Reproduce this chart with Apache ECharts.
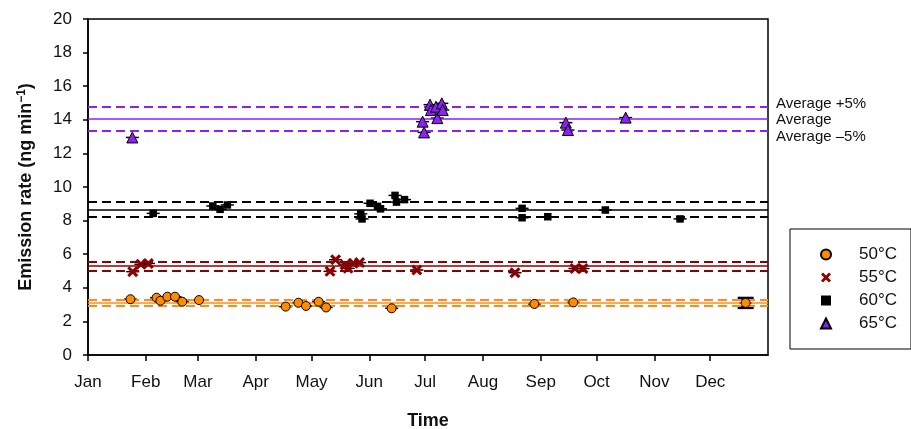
<!DOCTYPE html>
<html><head><meta charset="utf-8">
<script src="https://cdn.jsdelivr.net/npm/echarts@6/dist/echarts.min.js"></script>
<style>html,body{margin:0;padding:0;background:#fff}#c{width:911px;height:429px}</style>
</head><body><div id="c"></div>
<script>
// Day-of-year axis
const monthStarts = [0, 31, 59, 90, 120, 151, 181, 212, 243, 273, 304, 334];
const monthLabels = ['Jan','Feb','Mar','Apr','May','Jun','Jul','Aug','Sep','Oct','Nov','Dec'];

const seriesNames = ['50°C', '55°C', '60°C', '65°C'];

// 50 °C
const days50  = [22.8, 36.8, 38.9, 42.6, 46.7, 50.6, 59.6, 106.1, 112.9, 117.0, 123.8, 127.8, 163.0, 239.6, 260.5, 353.0];
const rate50  = [3.32, 3.41, 3.23, 3.47, 3.47, 3.17, 3.27, 2.88, 3.11, 2.92, 3.17, 2.83, 2.78, 3.04, 3.13, 3.10];
const yErr50  = [0, 0, 0, 0, 0, 0, 0, 0, 0, 0, 0, 0, 0, 0, 0, 0.28];
// 55 °C
const days55  = [24.0, 28.4, 32.4, 129.9, 132.9, 138.0, 139.6, 142.4, 145.8, 176.5, 229.2, 261.4, 265.7];
const rate55  = [4.96, 5.40, 5.45, 4.98, 5.67, 5.36, 5.16, 5.46, 5.50, 5.06, 4.90, 5.15, 5.15];
// 60 °C
const days60  = [35.0, 67.0, 70.9, 74.8, 146.4, 147.1, 151.4, 155.4, 157.0, 164.8, 165.6, 169.9, 233.0, 233.0, 246.8, 277.7, 317.8];
const rate60  = [8.43, 8.87, 8.67, 8.93, 8.40, 8.10, 9.03, 8.85, 8.70, 9.50, 9.10, 9.25, 8.73, 8.17, 8.23, 8.63, 8.10];
// 65 °C
const days65  = [23.8, 179.6, 180.4, 183.6, 184.1, 186.8, 187.5, 189.9, 190.4, 256.5, 257.6, 288.6];
const rate65  = [12.95, 13.89, 13.25, 14.90, 14.58, 14.78, 14.10, 14.98, 14.58, 13.83, 13.39, 14.13];

const averageRates = [3.10, 5.30, 8.67, 14.05];
const bandFraction = 0.05;
const bandLabels = ['Average +5%', 'Average', 'Average \u20135%'];

const xErrDays = 3.5;
const capDays = 4.3;

const colors = {
  line: ['#FF8C1A', '#8B0000', '#000000', '#8B20F8'],
  fill: ['#FF8C00', '#8B0000', '#000000', '#8B20F8']
};
const symbols = ['circle', 'path://M2,0 L5,3 L8,0 L10,2 L7,5 L10,8 L8,10 L5,7 L2,10 L0,8 L3,5 L0,2 Z', 'rect', 'triangle'];
const symbolSizes = [9, 11, 7.5, 11];
const borders = [1, 0, 0, 1];

const sets = [
  {d: days50, r: rate50, e: yErr50},
  {d: days55, r: rate55, e: days55.map(() => 0)},
  {d: days60, r: rate60, e: days60.map(() => 0)},
  {d: days65, r: rate65, e: days65.map(() => 0)}
];

function errRender(params, api) {
  const x = api.value(0), y = api.value(1), ye = api.value(2);
  const l = api.coord([x - xErrDays, y]), r = api.coord([x + xErrDays, y]);
  const children = [{
    type: 'line', shape: {x1: l[0], y1: l[1], x2: r[0], y2: r[1]},
    style: {stroke: '#000', lineWidth: 1.5}
  }];
  if (ye > 0) {
    const t = api.coord([x, y + ye]), b = api.coord([x, y - ye]);
    const tl = api.coord([x - capDays, y + ye]), tr = api.coord([x + capDays, y + ye]);
    const bl = api.coord([x - capDays, y - ye]), br = api.coord([x + capDays, y - ye]);
    children.push({type: 'line', shape: {x1: t[0], y1: t[1], x2: b[0], y2: b[1]}, style: {stroke: '#000', lineWidth: 2}});
    children.push({type: 'line', shape: {x1: tl[0], y1: tl[1], x2: tr[0], y2: tr[1]}, style: {stroke: '#000', lineWidth: 3}});
    children.push({type: 'line', shape: {x1: bl[0], y1: bl[1], x2: br[0], y2: br[1]}, style: {stroke: '#000', lineWidth: 3}});
  }
  return {type: 'group', children};
}

const font = 'Liberation Sans, Arial, sans-serif';
const series = [];
// average lines
averageRates.forEach((avg, i) => {
  const vals = [avg * (1 + bandFraction), avg, avg * (1 - bandFraction)];
  const isPurple = i === 3;
  series.push({
    name: 'avg' + i, type: 'line', data: [], z: 1, silent: true,
    markLine: {
      silent: true, symbol: 'none', animation: false,
      data: vals.map((v, k) => ({
        yAxis: v,
        lineStyle: {color: colors.line[i], width: k === 1 ? 1.5 : 2, type: k === 1 ? 'solid' : [9, 5]},
        label: isPurple ? {
          show: true, position: 'end', formatter: bandLabels[k], distance: 8,
          offset: [0, [-3, 1, 6][k]], color: '#111', fontSize: 15,
          fontFamily: font
        } : {show: false}
      }))
    }
  });
});
// error bars
sets.forEach((s, i) => {
  series.push({
    name: 'err' + i, type: 'custom', z: 3, silent: true,
    renderItem: errRender,
    data: s.d.map((d, k) => [d, s.r[k], s.e[k]])
  });
});
// markers
sets.forEach((s, i) => {
  series.push({
    name: seriesNames[i], type: 'scatter', z: 5,
    symbol: symbols[i], symbolSize: symbolSizes[i],
    itemStyle: {color: colors.fill[i], borderColor: '#000', borderWidth: borders[i], opacity: 1},
    data: s.d.map((d, k) => [d, s.r[k]])
  });
});

const chart = echarts.init(document.getElementById('c'));
chart.setOption({
  animation: false,
  backgroundColor: '#fff',
  grid: {left: 88, right: 143, top: 19, bottom: 74, outerBoundsMode: 'none', containLabel: false,
         show: true, borderColor: '#000', borderWidth: 1.5, backgroundColor: 'transparent'},
  legend: {
    data: seriesNames, orient: 'vertical', left: 790, top: 229,
    padding: [17, 14, 17, 30], itemGap: 6, itemWidth: 10, itemHeight: 10,
    borderColor: '#000', borderWidth: 1, backgroundColor: '#fff',
    textStyle: {fontSize: 17, fontFamily: font, color: '#111', padding: [0, 0, 0, 23], lineHeight: 17}
  },
  xAxis: {
    type: 'value', min: 0, max: 365,
    name: 'Time', nameLocation: 'middle', nameGap: 57,
    nameTextStyle: {fontSize: 18, fontWeight: 'bold', fontFamily: font, color: '#111'},
    axisLine: {lineStyle: {color: '#000', width: 1.5}},
    axisTick: {show: true, length: 6, customValues: monthStarts, lineStyle: {color: '#000', width: 1.5}},
    axisLabel: {
      customValues: monthStarts, margin: 19, fontSize: 17, fontFamily: font, color: '#111',
      formatter: v => monthLabels[monthStarts.indexOf(v)] || ''
    },
    splitLine: {show: false}
  },
  yAxis: {
    type: 'value', min: 0, max: 20, interval: 2,
    name: '{a|Emission rate (ng min}{s|\u22121}{a|)}', nameLocation: 'middle', nameGap: 52,
    nameTextStyle: {
      rich: {
        a: {fontSize: 18, fontWeight: 'bold', fontFamily: font, color: '#111'},
        s: {fontSize: 12, fontWeight: 'bold', fontFamily: font, color: '#111', verticalAlign: 'top', padding: [0, 0, 8, 0]}
      }
    },
    axisLine: {show: true, lineStyle: {color: '#000', width: 1.5}},
    axisTick: {show: true, length: 5, lineStyle: {color: '#000', width: 1.5}},
    axisLabel: {margin: 16, fontSize: 17, fontFamily: font, color: '#111'},
    splitLine: {show: false}
  },
  series
});
</script></body></html>
